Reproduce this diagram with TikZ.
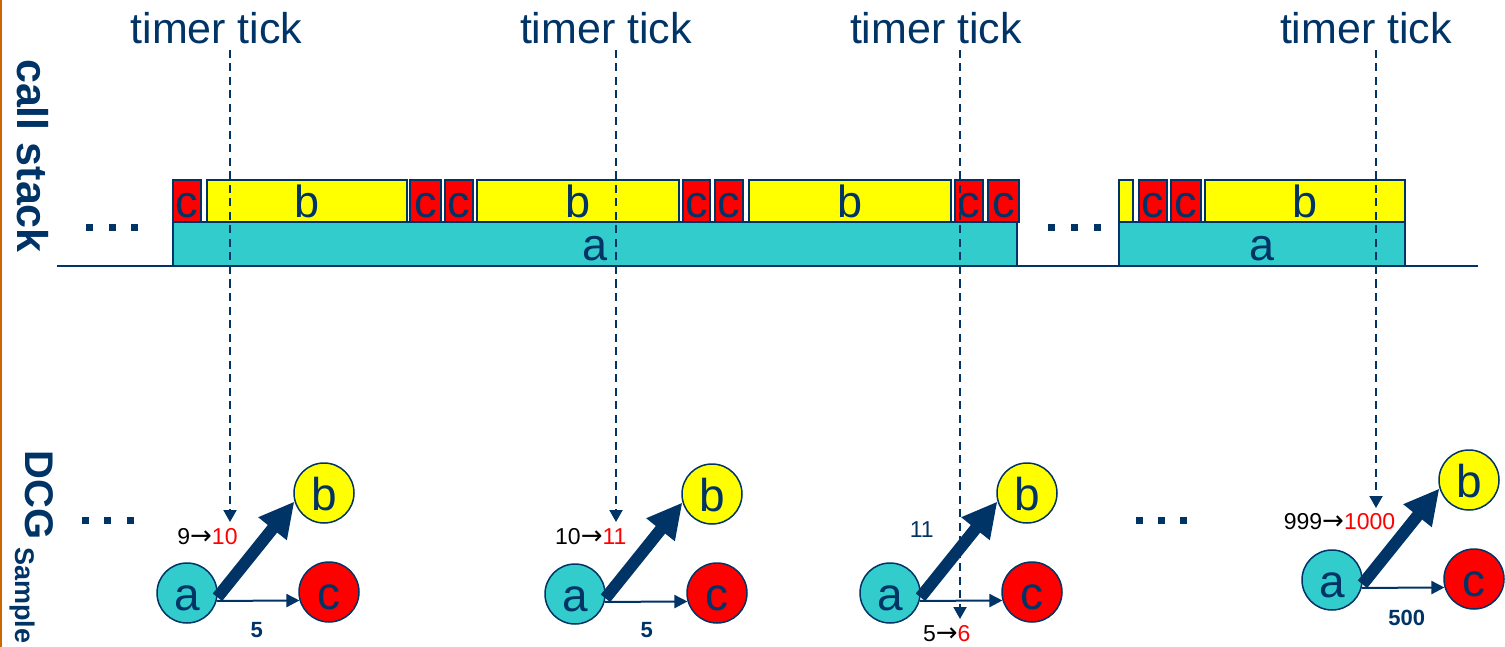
\documentclass[tikz,border=0pt]{standalone}
\usepackage{fontspec}
\setmainfont{Liberation Sans}
\newfontfamily\arrfont{DejaVu Sans}
\newcommand{\myarr}{{\arrfont\fontsize{26}{26}\selectfont →}}
\usetikzlibrary{arrows.meta}
\definecolor{dblue}{RGB}{0,51,102}
\definecolor{ccyan}{RGB}{51,204,204}
\definecolor{cyel}{RGB}{255,255,0}
\definecolor{cred}{RGB}{255,0,0}
\definecolor{corange}{RGB}{204,102,0}
\begin{document}
\begin{tikzpicture}[x=1pt,y=-1pt,
  box/.style={draw=dblue, line width=2pt, inner sep=0pt, outer sep=0pt,
    text height=34pt, text depth=0pt, text=dblue, font=\fontsize{45}{50}\selectfont},
  cbox/.style={box, fill=cred, minimum height=42pt},
  bbox/.style={box, fill=cyel, minimum height=42pt},
  abox/.style={box, fill=ccyan, minimum height=44pt},
  vert/.style={circle, draw=dblue, line width=1.5pt, minimum size=60pt, inner sep=0pt,
    text height=34pt, text depth=0pt, text=dblue, font=\fontsize{46}{50}\selectfont},
  va/.style={vert, fill=ccyan},
  vb/.style={vert, fill=cyel},
  vc/.style={vert, fill=cred},
  ticklabel/.style={anchor=base, inner sep=0pt, text=dblue, font=\fontsize{43}{50}\selectfont},
  sidelabel/.style={rotate=-90, inner sep=0pt, text=dblue},
  tickline/.style={draw=dblue, line width=2pt, dash pattern=on 8pt off 5.5pt,
    -{Triangle[length=12pt,width=13pt]}},
  heavy/.style={draw=dblue, line width=12pt, -{Triangle[length=35pt,width=34pt]}},
  light/.style={draw=dblue, line width=2pt, -{Triangle[length=13pt,width=13pt]}},
  num/.style={inner sep=0pt, text=black, font=\fontsize{23}{26}\selectfont},
  numblue/.style={inner sep=0pt, text=dblue, font=\fontsize{23}{26}\selectfont},
  numbold/.style={inner sep=0pt, text=dblue, font=\bfseries\fontsize{22}{26}\selectfont},
  dot/.style={fill=dblue}
]
\useasboundingbox (0,0) rectangle (1505,647);

% left orange rule
\coordinate (or0) at (1,0);
\coordinate (or1) at (1,647);
\draw[corange, line width=2pt] (or0) -- (or1);

% side labels
\node[sidelabel, anchor=base, font=\bfseries\fontsize{43}{50}\selectfont] (cs) at (17,156) {call stack};
\node[sidelabel, anchor=base, font=\bfseries\fontsize{40}{46}\selectfont] (dcg) at (25,495) {DCG};
\node[sidelabel, anchor=base west, font=\bfseries\fontsize{27}{30}\selectfont] (smp) at (15,547) {Sample};

% timer tick labels
\node[ticklabel] (tt1) at (216.5,43.3) {timer tick};
\node[ticklabel] (tt2) at (606,43.3) {timer tick};
\node[ticklabel] (tt3) at (936,43.3) {timer tick};
\node[ticklabel] (tt4) at (1366,43.3) {timer tick};

% call stack boxes, upper row
\node[cbox, minimum width=28pt] (c1) at (187,201) {c};
\node[bbox, minimum width=200pt] (b1) at (307,201) {b};
\node[cbox, minimum width=31pt] (c2) at (425.5,201) {c};
\node[cbox, minimum width=28pt] (c3) at (459,201) {c};
\node[bbox, minimum width=202pt] (b2) at (578,201) {b};
\node[cbox, minimum width=27pt] (c4) at (696.5,201) {c};
\node[cbox, minimum width=28pt] (c5) at (729,201) {c};
\node[bbox, minimum width=202pt] (b3) at (850,201) {b};
\node[cbox, minimum width=28pt] (c6) at (969,201) {c};
\node[cbox, minimum width=31pt] (c7) at (1003.5,201) {c};
\node[bbox, minimum width=14pt] (y1) at (1126,201) {};
\node[cbox, minimum width=28pt] (c8) at (1153,201) {c};
\node[cbox, minimum width=30pt] (c9) at (1186,201) {c};
\node[bbox, minimum width=200pt] (b4) at (1305,201) {b};
% lower row
\node[abox, minimum width=843.5pt] (a1) at (594.75,244) {a};
\node[abox, minimum width=286pt] (a2) at (1262,244) {a};

% time axis
\coordinate (ax0) at (57,266);
\coordinate (ax1) at (1478,266);
\draw[dblue, line width=2pt] (ax0) -- (ax1);

% ellipsis dots
\foreach \x/\y in {89/228,112/228,134/228,1051/228,1074/228,1097/228,
                   85/520,107/520,130/520,1139/520,1161/520,1183/520}
  \fill[dot] (\x-3.5,\y-3.5) rectangle (\x+3.5,\y+3.5);

% DCG panels
\node[va] (pa1) at (187,593) {a};
\node[vb] (pb1) at (324,493) {b};
\node[vc] (pc1) at (329,592) {c};
\node[va] (pa2) at (575,594) {a};
\node[vb] (pb2) at (712,494) {b};
\node[vc] (pc2) at (717,593) {c};
\node[va] (pa3) at (890,593) {a};
\node[vb] (pb3) at (1027,493) {b};
\node[vc] (pc3) at (1032,592) {c};
\node[va] (pa4) at (1332,580) {a};
\node[vb] (pb4) at (1469,480) {b};
\node[vc] (pc4) at (1474,579) {c};

\draw[heavy] (pa1.-8) -- (pb1.196);
\draw[light] (pa1.-15) -- (pc1.196);
\draw[heavy] (pa2.-8) -- (pb2.196);
\draw[light] (pa2.-15) -- (pc2.196);
\draw[heavy] (pa3.-8) -- (pb3.196);
\draw[light] (pa3.-15) -- (pc3.196);
\draw[heavy] (pa4.-8) -- (pb4.196);
\draw[light] (pa4.-15) -- (pc4.196);

% edge weights
\node[num] (l1) at (207.5,536.7) {9\myarr\textcolor{cred}{10}};
\node[numbold] (w1) at (256.7,630) {5};
\node[num] (l2) at (590.8,536.7) {10\myarr\textcolor{cred}{11}};
\node[numbold] (w2) at (646.7,630) {5};
\node[numblue] (l3) at (921.7,530) {11};
\node[num] (w3) at (946.7,633.3) {5\myarr\textcolor{cred}{6}};
\node[num] (l4) at (1339.5,521.7) {999\myarr\textcolor{cred}{1000}};
\node[numbold] (w4) at (1406.7,618.3) {500};

% timer tick sample lines
\coordinate (d1a) at (230,50);  \coordinate (d1b) at (230,522);
\coordinate (d2a) at (616,50);  \coordinate (d2b) at (616,522);
\coordinate (d3a) at (960,50);  \coordinate (d3b) at (960,619);
\coordinate (d4a) at (1376,50); \coordinate (d4b) at (1376,508);
\draw[tickline] (d1a) -- (d1b);
\draw[tickline] (d2a) -- (d2b);
\draw[tickline] (d3a) -- (d3b);
\draw[tickline] (d4a) -- (d4b);
\end{tikzpicture}
\end{document}
